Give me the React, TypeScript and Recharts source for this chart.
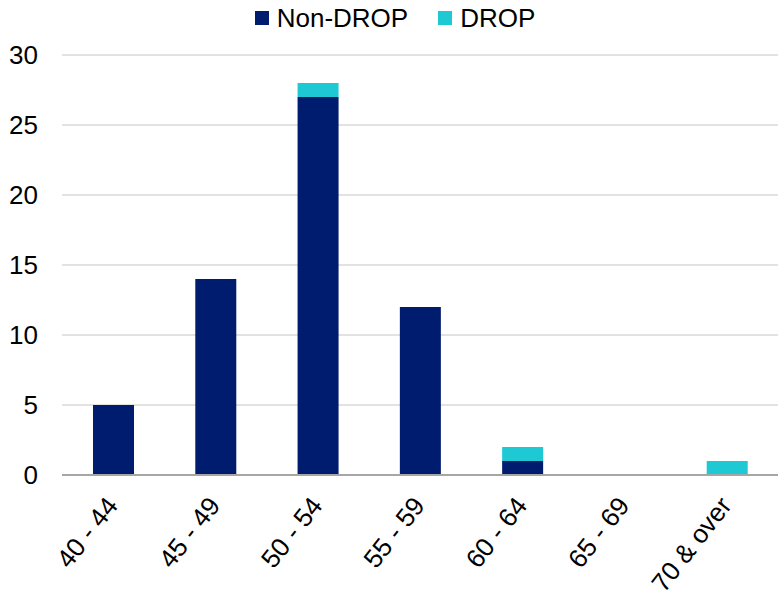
import { BarChart, Bar, XAxis, YAxis, CartesianGrid } from 'recharts'

const ageBands = ['40 - 44', '45 - 49', '50 - 54', '55 - 59', '60 - 64', '65 - 69', '70 & over']
const nonDrop = [5, 14, 27, 12, 1, 0, 0]
const drop = [0, 0, 1, 0, 1, 0, 1]
const yTicks = [0, 5, 10, 15, 20, 25, 30]

const NAVY = '#001C6E'
const CYAN = '#1FC9D3'
const FONT = 'Liberation Sans, Arial, sans-serif'

const chartData = ageBands.map((band, i) => ({
  band,
  nonDrop: nonDrop[i],
  drop: drop[i],
}))

const AngledTick = (props: any) => {
  const { x, y, payload } = props
  return (
    <g transform={`translate(${x + 6},${y + 23})`}>
      <text
        textAnchor="end"
        transform="rotate(-52)"
        fill="#000"
        fontSize={26}
        fontFamily={FONT}
      >
        {payload.value}
      </text>
    </g>
  )
}

// legend sits above the plot, drawn as plain html so it doesn't push the plot down
const LegendBox = () => {
  const items = [
    { label: 'Non-DROP', color: NAVY },
    { label: 'DROP', color: CYAN },
  ]
  return (
    <div
      style={{
        position: 'absolute',
        top: 3,
        left: 0,
        width: 780,
        display: 'flex',
        justifyContent: 'center',
        gap: 30,
        fontFamily: FONT,
        fontSize: 26,
        lineHeight: '30px',
        paddingLeft: 10,
        boxSizing: 'border-box',
      }}
    >
      {items.map((it) => (
        <div key={it.label} style={{ display: 'flex', alignItems: 'center' }}>
          <span style={{ width: 14, height: 14, background: it.color, display: 'inline-block', marginRight: 8 }} />
          <span style={{ color: '#000' }}>{it.label}</span>
        </div>
      ))}
    </div>
  )
}

export default function App() {
  return (
    <div style={{ position: 'absolute', left: 0, top: 0, width: 780, height: 600, background: '#fff' }}>
      <BarChart
        width={780}
        height={600}
        data={chartData}
        margin={{ top: 55, right: 2, left: 0, bottom: 0 }}
        barSize={41}
      >
        <CartesianGrid vertical={false} stroke="#d9d9d9" strokeWidth={1.3} />
        <XAxis
          dataKey="band"
          axisLine={{ stroke: '#a6a6a6', strokeWidth: 2 }}
          tickLine={false}
          tick={<AngledTick />}
          interval={0}
          height={125}
        />
        <YAxis
          domain={[0, 30]}
          ticks={yTicks}
          axisLine={false}
          tickLine={false}
          tickSize={0}
          tickMargin={24}
          width={62}
          tick={{ fill: '#000', fontSize: 26, fontFamily: FONT }}
        />
        <Bar dataKey="nonDrop" name="Non-DROP" stackId="a" fill={NAVY} isAnimationActive={false} />
        <Bar dataKey="drop" name="DROP" stackId="a" fill={CYAN} isAnimationActive={false} />
      </BarChart>
      <LegendBox />
    </div>
  )
}
